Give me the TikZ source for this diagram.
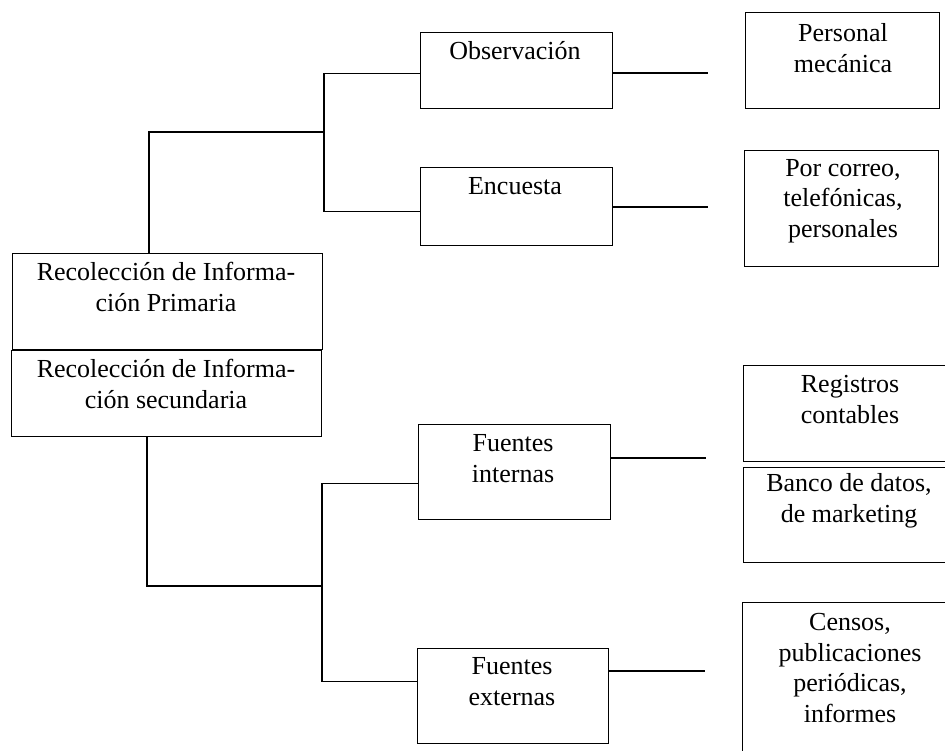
\documentclass[tikz,border=0pt]{standalone}
\usepackage{fontspec}
\setmainfont{Liberation Serif}
\begin{document}
\begin{tikzpicture}[x=1pt,y=-1pt,
  box/.style={draw,line width=1.4pt,inner sep=0pt,anchor=north west},
  txt/.style={align=center,font=\fontsize{26}{30.5}\selectfont,inner sep=0pt,anchor=base},
  conn/.style={line width=1.4pt}]
\useasboundingbox (0,0) rectangle (945,750);
\fill[white] (0,0) rectangle (945,750);
% left boxes
\node[box,minimum width=310pt,minimum height=96pt] (prim) at (12,253) {};
\node[box,minimum width=310pt,minimum height=86pt] (sec) at (11,350) {};
\node[txt] (primT) at (166,311) {Recolección de Informa-\\ción Primaria};
\node[txt] (secT) at (166,408) {Recolección de Informa-\\ción secundaria};
% middle boxes
\node[box,minimum width=192pt,minimum height=76pt] (obs) at (420,32) {};
\node[box,minimum width=192pt,minimum height=78pt] (enc) at (420,167) {};
\node[box,minimum width=192pt,minimum height=95pt] (fi) at (418,424) {};
\node[box,minimum width=191pt,minimum height=95pt] (fe) at (417,648) {};
\node[txt] (obsT) at (515,59) {Observación};
\node[txt] (encT) at (515,194) {Encuesta};
\node[txt] (fiT) at (513,482) {Fuentes\\internas};
\node[txt] (feT) at (512,705) {Fuentes\\externas};
% right boxes
\node[box,minimum width=194pt,minimum height=96pt] (pm) at (745,12) {};
\node[box,minimum width=194pt,minimum height=116pt] (pc) at (744,150) {};
\node[box,minimum width=210pt,minimum height=96pt] (rc) at (743,365) {};
\node[box,minimum width=210pt,minimum height=95pt] (bd) at (743,467) {};
\node[box,minimum width=210pt,minimum height=160pt] (ce) at (742,602) {};
\node[txt] (pmT) at (843,72) {Personal\\mecánica};
\node[txt] (pcT) at (843,237) {Por correo,\\telefónicas,\\personales};
\node[txt] (rcT) at (850,423) {Registros\\contables};
\node[txt] (bdT) at (849,522) {Banco de datos,\\de marketing};
\node[txt] (ceT) at (850,722) {Censos,\\publicaciones\\periódicas,\\informes};
% junctions
\coordinate (j1) at (324,132);
\coordinate (j2) at (322,586);
\coordinate (e1) at (708,73);
\coordinate (e2) at (708,207);
\coordinate (e3) at (706,458);
\coordinate (e4) at (705,671);
% connectors left
\draw[conn] ([xshift=137pt]prim.north west) |- (j1);
\draw[conn] ([yshift=-3pt]obs.west) -| (j1);
\draw[conn] ([yshift=-5pt]enc.west) -| (j1);
\draw[conn] ([xshift=136pt]sec.south west) |- (j2);
\draw[conn] ([yshift=-11pt]fi.west) -| (j2);
\draw[conn] ([yshift=15pt]fe.west) -| (j2);
% connectors right
\draw[conn] (obs.east |- e1) -- (e1);
\draw[conn] (enc.east |- e2) -- (e2);
\draw[conn] (fi.east |- e3) -- (e3);
\draw[conn] (fe.east |- e4) -- (e4);
\end{tikzpicture}
\end{document}
